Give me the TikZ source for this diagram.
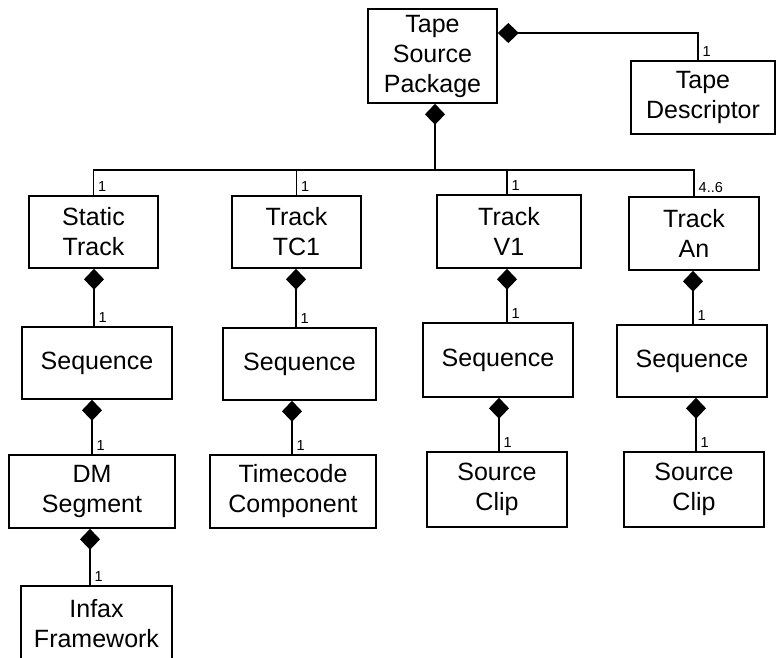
\documentclass[tikz,border=0pt]{standalone}
\usepackage{fontspec}
\setmainfont{Liberation Sans}
\usetikzlibrary{arrows.meta}
\tikzset{
  cls/.style={draw=black, line width=1.6pt, fill=white, inner sep=0pt, align=center,
    font=\fontsize{25}{30}\selectfont},
  conn/.style={draw=black, line width=1.6pt},
  comp/.style={conn, {Diamond[length=21pt,width=20pt]}-},
  mult/.style={anchor=south west, inner sep=1.5pt, font=\fontsize{14.5}{16}\selectfont}
}
\begin{document}
\begin{tikzpicture}[x=1pt,y=-1pt]
\useasboundingbox (0,0) rectangle (776,657);
% classes
\node[cls, minimum width=129pt, minimum height=94pt] (tsp) at (432.5,56) {Tape\\Source\\Package};
\node[cls, minimum width=144pt, minimum height=73pt] (td) at (703,97.5) {Tape\\Descriptor};
\node[cls, minimum width=129pt, minimum height=72pt] (st) at (93.5,232) {Static\\Track};
\node[cls, minimum width=129pt, minimum height=72pt] (tc1) at (296.5,232) {Track\\TC1};
\node[cls, minimum width=144pt, minimum height=73pt] (v1) at (509,231.5) {Track\\V1};
\node[cls, minimum width=130pt, minimum height=73pt] (an) at (694,233.5) {Track\\An};
\node[cls, minimum width=150pt, minimum height=72pt] (seq1) at (97,363) {Sequence};
\node[cls, minimum width=153pt, minimum height=72pt] (seq2) at (299.5,364) {Sequence};
\node[cls, minimum width=150pt, minimum height=74pt] (seq3) at (498,360) {Sequence};
\node[cls, minimum width=150pt, minimum height=72pt] (seq4) at (692,361) {Sequence};
\node[cls, minimum width=166pt, minimum height=73pt] (dm) at (92,491.5) {DM\\Segment};
\node[cls, minimum width=166pt, minimum height=73pt] (tcc) at (293,491.5) {Timecode\\Component};
\node[cls, minimum width=140pt, minimum height=75pt] (sc1) at (497,489.5) {Source\\Clip};
\node[cls, minimum width=140pt, minimum height=75pt] (sc2) at (694,489.5) {Source\\Clip};
\node[cls, minimum width=151pt, minimum height=76pt] (inf) at (96.5,624) {Infax\\Framework};
% tape descriptor
\coordinate (tdy) at (0,33);
\coordinate (tdx) at (698,0);
\draw[comp] (tsp.east |- tdy) -- (tdx |- tdy) -- (tdx |- td.north);
\node[mult] at ([xshift=3pt,yshift=2pt]tdx |- td.north) {1};
% bus to tracks
\coordinate (busy) at (0,170);
\draw[comp] (tsp.south -| 435,0) -- (busy -| 435,0);
\draw[conn] (st.north) -- (st.north |- busy) -- (an.north |- busy) -- (an.north);
\draw[conn] (tc1.north) -- (tc1.north |- busy);
\draw[conn] (v1.north -| 507,0) -- (busy -| 507,0);
\node[mult] at ([xshift=3pt,yshift=2pt]st.north) {1};
\node[mult] at ([xshift=3pt,yshift=2pt]tc1.north) {1};
\node[mult] at ([xshift=3pt,yshift=2pt]v1.north -| 507,0) {1};
\node[mult] at ([xshift=3pt,yshift=2pt]an.north) {4..6};
% compositions down each column
\foreach \p/\c/\x in {st/seq1/94, seq1/dm/92, dm/inf/90, tc1/seq2/296, seq2/tcc/292,
                      v1/seq3/507, seq3/sc1/499, an/seq4/693, seq4/sc2/696}{
  \draw[comp] (\p.south -| \x,0) -- (\c.north -| \x,0);
  \node[mult] at ([xshift=3pt,yshift=2pt]\c.north -| \x,0) {1};
}
\end{tikzpicture}
\end{document}
